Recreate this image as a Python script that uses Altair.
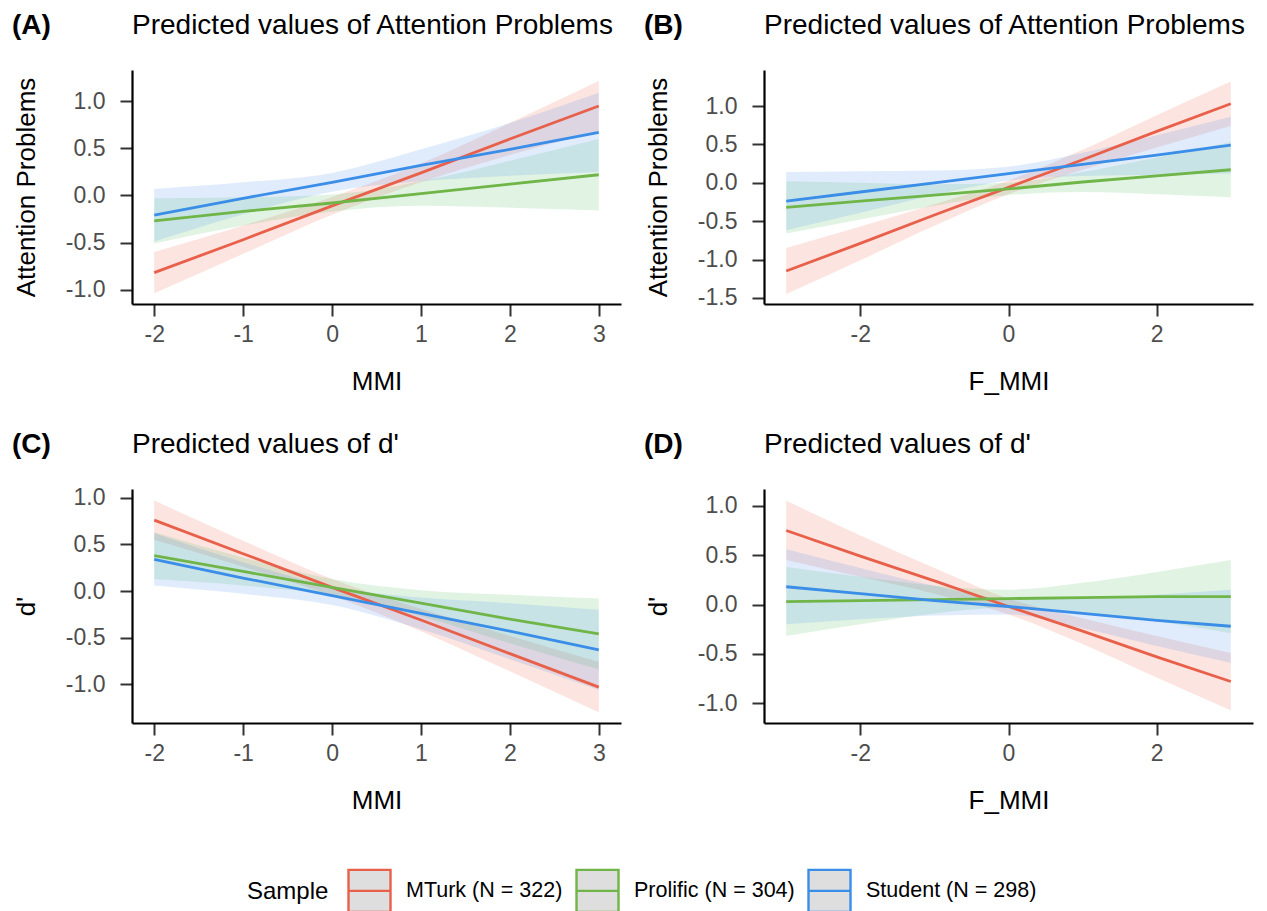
import altair as alt
import pandas as pd

FONT = "Liberation Sans"
samples = ["MTurk (N = 322)", "Prolific (N = 304)", "Student (N = 298)"]
line_colors = ["#e8604a", "#70b548", "#3a8ee8"]
band_colors = ["#f0604a", "#4cbf5c", "#4a8ef0"]

# Panel A: Attention Problems vs MMI
a_x = [-2, -1, 0, 1, 2, 3]
a_mean = {
    samples[0]: [-0.82, -0.47, -0.11, 0.24, 0.60, 0.95],
    samples[1]: [-0.27, -0.17, -0.08, 0.02, 0.12, 0.22],
    samples[2]: [-0.21, -0.03, 0.14, 0.32, 0.49, 0.67],
}
a_half = {
    samples[0]: [0.22, 0.15, 0.095, 0.10, 0.17, 0.265],
    samples[1]: [0.24, 0.15, 0.09, 0.13, 0.25, 0.38],
    samples[2]: [0.28, 0.17, 0.10, 0.17, 0.28, 0.42],
}
# Panel B: Attention Problems vs F_MMI
b_x = [-3, -2, -1, 0, 1, 2, 3]
b_mean = {
    samples[0]: [-1.15, -0.79, -0.42, -0.06, 0.30, 0.67, 1.03],
    samples[1]: [-0.32, -0.24, -0.16, -0.08, 0.01, 0.09, 0.17],
    samples[2]: [-0.24, -0.12, 0.00, 0.12, 0.24, 0.36, 0.49],
}
b_half = {
    samples[0]: [0.30, 0.22, 0.14, 0.09, 0.13, 0.21, 0.29],
    samples[1]: [0.34, 0.24, 0.14, 0.08, 0.13, 0.24, 0.36],
    samples[2]: [0.38, 0.27, 0.16, 0.09, 0.15, 0.26, 0.37],
}
# Panel C: d' vs MMI
c_x = [-2, -1, 0, 1, 2, 3]
c_mean = {
    samples[0]: [0.76, 0.40, 0.04, -0.31, -0.67, -1.03],
    samples[1]: [0.38, 0.21, 0.04, -0.13, -0.30, -0.46],
    samples[2]: [0.34, 0.14, -0.05, -0.24, -0.43, -0.63],
}
c_half = {
    samples[0]: [0.21, 0.14, 0.09, 0.12, 0.19, 0.27],
    samples[1]: [0.25, 0.15, 0.09, 0.14, 0.26, 0.38],
    samples[2]: [0.28, 0.17, 0.10, 0.17, 0.30, 0.43],
}
# Panel D: d' vs F_MMI
d_x = [-3, -2, -1, 0, 1, 2, 3]
d_mean = {
    samples[0]: [0.75, 0.49, 0.24, -0.02, -0.27, -0.53, -0.78],
    samples[1]: [0.03, 0.04, 0.05, 0.06, 0.07, 0.08, 0.08],
    samples[2]: [0.18, 0.11, 0.04, -0.02, -0.09, -0.16, -0.22],
}
d_half = {
    samples[0]: [0.30, 0.21, 0.13, 0.08, 0.13, 0.21, 0.29],
    samples[1]: [0.35, 0.24, 0.14, 0.09, 0.15, 0.25, 0.37],
    samples[2]: [0.38, 0.26, 0.15, 0.08, 0.15, 0.26, 0.37],
}


def table(xs, means, halves):
    rows = []
    for s in samples:
        for x, m, h in zip(xs, means[s], halves[s]):
            rows.append({"x": x, "mean": m, "lo": m - h, "hi": m + h, "sample": s})
    return pd.DataFrame(rows)


color_scale = alt.Scale(domain=samples, range=line_colors)
fill_scale = alt.Scale(domain=samples, range=band_colors)
LABEL_EXPR = "replace(format(datum.value, '{}'), '\u2212', '-')"

# legend drawn once, positioned relative to panel C's plot area
legend = alt.Legend(
    orient="none",
    direction="horizontal",
    legendX=115,
    legendY=379,
    titleOrient="left",
    titleBaseline="middle",
    symbolType="M-1,-1H1V1H-1Z M-1,0H1",
    symbolSize=1764,
    symbolFillColor="#dedede",
    symbolStrokeWidth=2.4,
    symbolOpacity=1,
    labelFontSize=21.5,
    labelLimit=400,
    titleFontSize=24,
    titleFontWeight="normal",
    labelOffset=14,
    columnPadding=8,
    titlePadding=18,
    labelColor="black",
    titleColor="black",
    labelFont=FONT,
    titleFont=FONT,
)


def panel(df, letter, title, xtitle, ytitle, xdom, ydom, xticks, yticks, show_legend):
    xaxis = alt.Axis(values=xticks, title=xtitle, labelExpr=LABEL_EXPR.format("d"))
    yaxis = alt.Axis(values=yticks, title=ytitle, labelExpr=LABEL_EXPR.format(".1f"))
    xs = alt.Scale(domain=xdom, nice=False, zero=False)
    ys = alt.Scale(domain=ydom, nice=False, zero=False)
    base = alt.Chart(df)
    band = base.mark_area(opacity=0.17, interpolate="monotone").encode(
        x=alt.X("x:Q", scale=xs, axis=xaxis),
        y=alt.Y("lo:Q", scale=ys, axis=yaxis, stack=None),
        y2="hi:Q",
        fill=alt.Fill("sample:N", scale=fill_scale, legend=None),
    )
    line = base.mark_line(strokeWidth=2.8).encode(
        x=alt.X("x:Q", scale=xs),
        y=alt.Y("mean:Q", scale=ys),
        color=alt.Color("sample:N", scale=color_scale, title="Sample",
                        legend=legend if show_legend else None),
    )
    tag = alt.Chart(pd.DataFrame({"t": [letter]})).mark_text(
        font=FONT, fontSize=28, fontWeight="bold", align="left",
        baseline="alphabetic", color="black"
    ).encode(x=alt.value(-120), y=alt.value(-36), text="t:N")
    head = alt.Chart(pd.DataFrame({"t": [title]})).mark_text(
        font=FONT, fontSize=28, align="left", baseline="alphabetic", color="black"
    ).encode(x=alt.value(0), y=alt.value(-36), text="t:N")
    return alt.layer(band, line, tag, head).properties(width=489, height=234)


pA = panel(table(a_x, a_mean, a_half), "(A)", "Predicted values of Attention Problems", "MMI",
           "Attention Problems", [-2.25, 3.25], [-1.153, 1.333], [-2, -1, 0, 1, 2, 3],
           [-1, -0.5, 0, 0.5, 1], False)
pB = panel(table(b_x, b_mean, b_half), "(B)", "Predicted values of Attention Problems", "F_MMI",
           "Attention Problems", [-3.3, 3.3], [-1.58, 1.47], [-2, 0, 2],
           [-1.5, -1, -0.5, 0, 0.5, 1], False)
pC = panel(table(c_x, c_mean, c_half), "(C)", "Predicted values of d'", "MMI",
           "d'", [-2.25, 3.25], [-1.414, 1.094], [-2, -1, 0, 1, 2, 3],
           [-1, -0.5, 0, 0.5, 1], True)
pD = panel(table(d_x, d_mean, d_half), "(D)", "Predicted values of d'", "F_MMI",
           "d'", [-3.3, 3.3], [-1.20, 1.17], [-2, 0, 2],
           [-1, -0.5, 0, 0.5, 1], False)

row1 = alt.HConcatChart(hconcat=[pA, pB], spacing=143, bounds="flush").resolve_legend(color="independent")
row2 = alt.HConcatChart(hconcat=[pC, pD], spacing=143, bounds="flush").resolve_legend(color="independent")

chart = alt.VConcatChart(vconcat=[row1, row2], spacing=37).resolve_legend(
    color="independent"
).properties(
    padding={"left": 12, "top": 12, "right": 5, "bottom": 0},
    background="white",
).configure_view(stroke=None).configure_axis(
    grid=False,
    domainColor="black",
    domainWidth=2.2,
    tickColor="#333333",
    tickWidth=2,
    tickSize=12,
    labelFontSize=23,
    labelColor="#4d4d4d",
    labelFont=FONT,
    titleFont=FONT,
    titleFontSize=26,
    titleFontWeight="normal",
    titleColor="black",
).configure_axisX(titlePadding=22, labelPadding=7).configure_axisY(titlePadding=26, labelPadding=15)

chart.save("out.html", embed_options={"renderer": "svg", "actions": False})
